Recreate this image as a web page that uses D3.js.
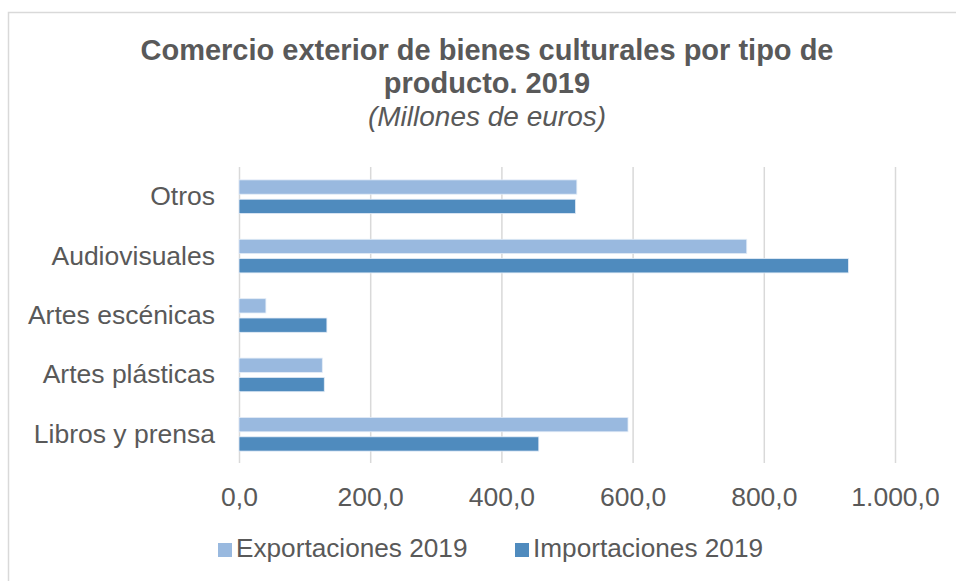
<!DOCTYPE html>
<html>
<head>
<meta charset="utf-8">
<script src="https://cdn.jsdelivr.net/npm/d3@7"></script>
<style>
  body { margin: 0; background: #fff; }
  svg { display: block; font-family: "Liberation Sans", Arial, sans-serif; }
</style>
</head>
<body>
<svg id="chart" width="956" height="581"></svg>
<script>
const categories = ["Otros", "Audiovisuales", "Artes escénicas", "Artes plásticas", "Libros y prensa"];
const seriesNames = ["Exportaciones 2019", "Importaciones 2019"];
const exportaciones = [515, 774, 41, 127, 593];
const importaciones = [513, 929, 134, 130, 457];
const tickValues = [0, 200, 400, 600, 800, 1000];
const colors = ["#99B9DF", "#4F8BBE"];
const textColor = "#595959";

const svg = d3.select("#chart");

// chart border
svg.append("rect")
  .attr("x", 8.5).attr("y", 12.5)
  .attr("width", 1000).attr("height", 1000)
  .attr("fill", "#fff").attr("stroke", "#d9d9d9").attr("stroke-width", 1.5);

// title
const title = svg.append("text").attr("text-anchor", "middle").attr("fill", textColor);
title.append("tspan").attr("x", 487).attr("y", 60)
  .attr("font-size", 29).attr("font-weight", "bold")
  .text("Comercio exterior de bienes culturales por tipo de");
title.append("tspan").attr("x", 487).attr("y", 93)
  .attr("font-size", 29).attr("font-weight", "bold")
  .text("producto. 2019");
title.append("tspan").attr("x", 487).attr("y", 126)
  .attr("font-size", 28).attr("font-style", "italic")
  .text("(Millones de euros)");

const x = d3.scaleLinear().domain([0, 1000]).range([239, 895]);
const y = d3.scaleBand().domain(categories).range([167, 464]).paddingInner(0.434).paddingOuter(0.217);
const ys = d3.scaleBand().domain(seriesNames).range([0, y.bandwidth()]).paddingInner(0.26);

const locale = d3.formatLocale({decimal: ",", thousands: ".", grouping: [3], currency: ["", "€"]});
const fmt = locale.format(",.1f");

// x axis with gridlines
const xAxis = svg.append("g")
  .attr("transform", "translate(0,463)")
  .call(d3.axisBottom(x).tickValues(tickValues).tickSize(-296).tickPadding(24).tickFormat(fmt));
xAxis.select(".domain").remove();
xAxis.selectAll(".tick line").attr("stroke", "#d9d9d9").attr("stroke-width", 1.5);
xAxis.selectAll(".tick text").attr("fill", textColor).attr("font-size", 26.5)
  .attr("font-family", "'Liberation Sans', Arial, sans-serif");

// bars
const data = categories.map((c, i) => ({cat: c, vals: [exportaciones[i], importaciones[i]]}));
const groups = svg.append("g").selectAll("g").data(data).join("g")
  .attr("transform", d => `translate(0,${y(d.cat)})`);
groups.selectAll("rect")
  .data(d => d.vals.map((v, j) => ({name: seriesNames[j], v, j})))
  .join("rect")
  .attr("x", x(0))
  .attr("y", d => ys(d.name))
  .attr("width", d => x(d.v) - x(0))
  .attr("height", ys.bandwidth())
  .attr("fill", d => colors[d.j])
  .attr("stroke", "#e3ecf7").attr("stroke-width", 0.8);

// category axis
const yAxis = svg.append("g")
  .attr("transform", "translate(239,0)")
  .call(d3.axisLeft(y).tickSize(0).tickPadding(24));
yAxis.select(".domain").remove();
yAxis.selectAll(".tick text").attr("fill", textColor).attr("font-size", 26.5)
  .attr("font-family", "'Liberation Sans', Arial, sans-serif");

// legend
const legendX = [218, 515];
const legend = svg.append("g").selectAll("g").data(seriesNames).join("g")
  .attr("transform", (d, i) => `translate(${legendX[i]},0)`);
legend.append("rect").attr("x", 0).attr("y", 543).attr("width", 14).attr("height", 14)
  .attr("fill", (d, i) => colors[i]);
legend.append("text").attr("x", 18).attr("y", 557)
  .attr("fill", textColor).attr("font-size", 26.2).text(d => d);
</script>
</body>
</html>
